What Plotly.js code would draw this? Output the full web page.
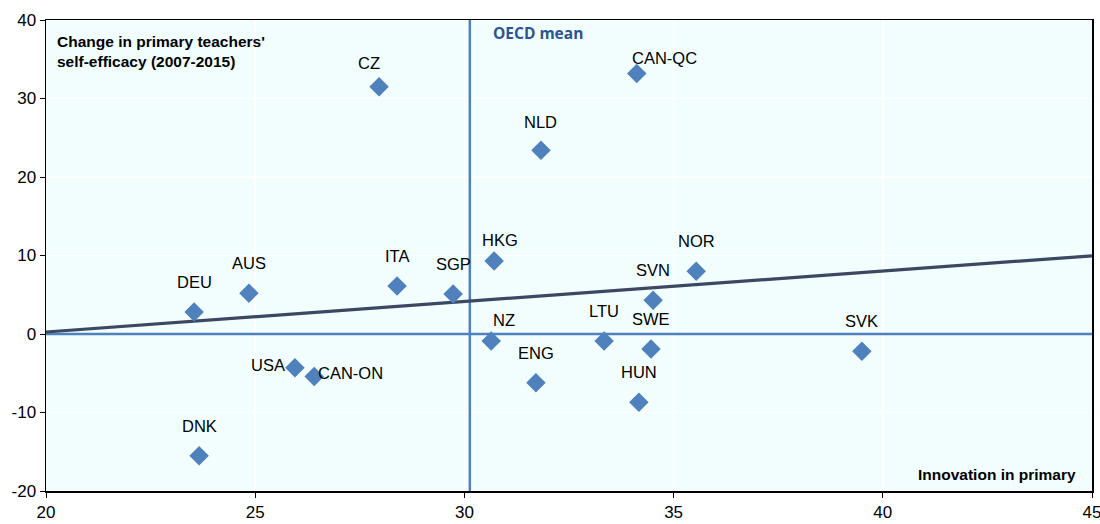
<!DOCTYPE html>
<html>
<head>
<meta charset="utf-8">
<script src="https://cdn.plot.ly/plotly-3.0.1.min.js"></script>
<style>html,body{margin:0;padding:0;background:#fff;}#chart{width:1100px;height:524px;}</style>
</head>
<body>
<div id="chart"></div>
<script>
// Data
const countries = ["DEU","AUS","ITA","SGP","HKG","NZ","LTU","SWE","SVN","NOR","ENG","HUN","SVK","USA","CAN-ON","DNK","CZ","NLD","CAN-QC"];
const innovation = [23.54,24.85,28.39,29.73,30.71,30.64,33.34,34.46,34.51,35.54,31.71,34.17,39.50,25.95,26.41,23.66,27.96,31.83,34.12];
const selfEfficacyChange = [2.8,5.2,6.1,5.1,9.3,-0.9,-0.9,-1.9,4.3,8.0,-6.2,-8.7,-2.2,-4.3,-5.4,-15.5,31.5,23.4,33.2];
const oecdMean = 30.13;
const xRange = [20,45];
const yRange = [-20,40];
const xTicks = [20,25,30,35,40,45];
const yTicks = [-20,-10,0,10,20,30,40];

// Least-squares trend line computed from the data
const n = innovation.length;
const mx = innovation.reduce((a,b)=>a+b,0)/n;
const my = selfEfficacyChange.reduce((a,b)=>a+b,0)/n;
let sxy=0, sxx=0;
for (let i=0;i<n;i++){ sxy += (innovation[i]-mx)*(selfEfficacyChange[i]-my); sxx += (innovation[i]-mx)**2; }
const slope = sxy/sxx, intercept = my - slope*mx;
const trendY = xRange.map(x=>intercept+slope*x);

const FONT = '"Liberation Sans Narrow", "Arial Narrow", "Liberation Sans", Arial, sans-serif';
const BLUE = '#4f81bd';

// label placement (pixel offsets: right, down), default: centred above point
const labelOffsets = {
  "HKG":[6,-21], "NZ":[13,-21], "CZ":[-10,-24], "NLD":[0,-28],
  "CAN-QC":[28,-15], "USA":[-27,-3], "CAN-ON":[36,-3]
};
const annotations = countries.map((c,i)=>{
  const off = labelOffsets[c] || [0,-30];
  return {x: innovation[i], y: selfEfficacyChange[i], xref:'x', yref:'y', text:c, showarrow:false,
    xshift: off[0], yshift: -off[1], xanchor:'center', yanchor:'middle',
    font:{family:FONT, size:16.5, color:'#000'}};
});
annotations.push({xref:'paper', yref:'paper', x:0.009, y:0.977, xanchor:'left', yanchor:'top', align:'left', showarrow:false,
  text:"<b>Change in primary teachers'<br>self-efficacy (2007-2015)</b>", font:{family:FONT, size:15.5, color:'#000'}});
annotations.push({xref:'paper', yref:'paper', x:0.987, y:0.012, xanchor:'right', yanchor:'bottom', showarrow:false,
  text:"<b>Innovation in primary</b>", font:{family:FONT, size:15.5, color:'#000'}});
annotations.push({xref:'x', yref:'paper', x:oecdMean, y:1.0, xanchor:'left', yanchor:'top', xshift:21, showarrow:false,
  text:"<b>OECD mean</b>", font:{family:'"Open Sans", "DejaVu Sans", sans-serif', size:15.5, color:'#2a5592'}});

const traces = [
  {x: xRange, y: [0,0], mode:'lines', line:{color:BLUE, width:2.5}, hoverinfo:'skip', showlegend:false},
  {x: [oecdMean, oecdMean], y: yRange, mode:'lines', line:{color:BLUE, width:2.5}, hoverinfo:'skip', showlegend:false},
  {x: xRange, y: trendY, mode:'lines', line:{color:'#3b4862', width:3.2}, hoverinfo:'skip', showlegend:false},
  {x: innovation, y: selfEfficacyChange, mode:'markers', text: countries,
   marker:{symbol:'diamond', size:15, color:BLUE}, showlegend:false}
];

const layout = {
  width:1100, height:524,
  margin:{l:46, r:8, t:20, b:33},
  paper_bgcolor:'#ffffff', plot_bgcolor:'#f2fefe',
  showlegend:false,
  xaxis:{range:xRange, tickvals:xTicks, ticktext:xTicks.map(String), showgrid:true, gridcolor:'#ffffff', gridwidth:1.5,
    zeroline:false, showline:true, linecolor:'#000', linewidth:1.5, mirror:true, ticklabeloverflow:'allow',
    ticks:'outside', ticklen:5, tickcolor:'#000', tickfont:{family:FONT, size:17, color:'#000'}},
  yaxis:{range:yRange, tickvals:yTicks, ticktext:yTicks.map(String), showgrid:true, gridcolor:'#ffffff', gridwidth:1.5,
    zeroline:false, showline:true, linecolor:'#000', linewidth:1.5, mirror:true,
    ticks:'outside', ticklen:5, tickcolor:'#000', tickfont:{family:FONT, size:17, color:'#000'}},
  annotations: annotations
};

Plotly.newPlot('chart', traces, layout, {displayModeBar:false, staticPlot:true});
</script>
</body>
</html>
